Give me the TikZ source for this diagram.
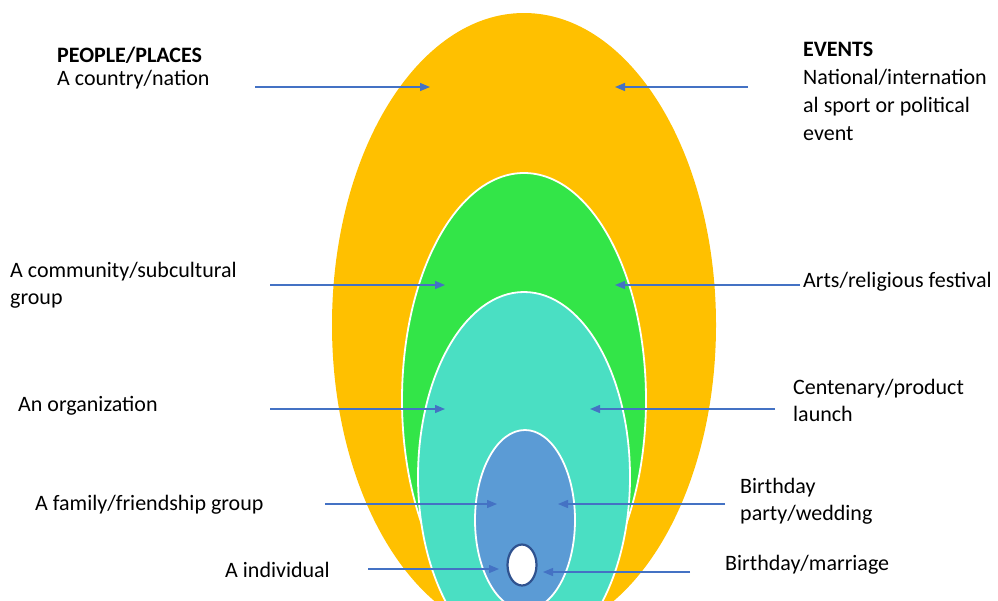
\documentclass[tikz,border=0pt]{standalone}
\usepackage{fontspec}
\setmainfont{Carlito}
\usetikzlibrary{shapes.geometric,arrows.meta}
\definecolor{EggGold}{HTML}{FFC000}
\definecolor{EggGreen}{HTML}{33E548}
\definecolor{EggTeal}{HTML}{4ADFC3}
\definecolor{EggBlue}{HTML}{5B9BD5}
\definecolor{EggRim}{HTML}{2F528F}
\definecolor{EggArrow}{HTML}{4472C4}

\begin{document}
\begin{tikzpicture}[x=1pt,y=-1pt,font=\fontsize{22pt}{27pt}\selectfont,
      egg/.style={ellipse,inner sep=0pt,draw=white,line width=1.8pt},
      lbl/.style={anchor=north west,align=left,inner sep=0pt},
      arr/.style={-{Triangle[length=10pt,width=8pt]},line width=1.3pt,color=EggArrow}]
      \useasboundingbox (0,0) rectangle (998,600);
      \clip (0,0) rectangle (998,600);
      % nested scopes, biggest first
      \node[egg,draw=none,fill=EggGold,minimum width=384pt,minimum height=624pt] (country) at (524,325) {};
      \node[egg,fill=EggGreen,minimum width=244pt,minimum height=454pt] (community) at (524,400) {};
      \node[egg,fill=EggTeal,minimum width=212pt,minimum height=370pt] (organization) at (524,477) {};
      \node[egg,fill=EggBlue,minimum width=100pt,minimum height=180pt] (family) at (525,520) {};
      \node[egg,fill=white,draw=EggRim,line width=2.2pt,minimum width=29pt,minimum height=41pt] (individual) at (522,565) {};
      % labels
      \node[lbl,font=\fontsize{22pt}{23pt}\selectfont] (people) at (57,46.6) {\strut\textbf{PEOPLE/PLACES}\\A country/nation};
      \node[lbl,font=\fontsize{22pt}{28pt}\selectfont] (events) at (803,36.4) {\strut\textbf{EVENTS}\\National/internation\\al sport or political\\event};
      \node[lbl] (lcommunity) at (10,258) {\strut A community/subcultural\\group};
      \node[lbl] (rcommunity) at (803,268) {\strut Arts/religious festival};
      \node[lbl] (lorganization) at (18,392) {\strut An organization};
      \node[lbl] (rorganization) at (793,375) {\strut Centenary/product\\launch};
      \node[lbl] (lfamily) at (35,491) {\strut A family/friendship group};
      \node[lbl] (rfamily) at (740,474) {\strut Birthday\\party/wedding};
      \node[lbl] (lindividual) at (225,558) {\strut A individual};
      \node[lbl] (rindividual) at (725,551) {\strut Birthday/marriage};
      % arrow ends
      \coordinate (a1) at (255,87);  \coordinate (a1t) at (430,87);
      \coordinate (b1) at (748,87);  \coordinate (b1t) at (615,87);
      \coordinate (a2) at (270,285); \coordinate (a2t) at (445,285);
      \coordinate (b2) at (800,285); \coordinate (b2t) at (615,285);
      \coordinate (a3) at (270,409); \coordinate (a3t) at (445,409);
      \coordinate (b3) at (775,409); \coordinate (b3t) at (590,409);
      \coordinate (a4) at (325,504); \coordinate (a4t) at (497,504);
      \coordinate (b4) at (725,504); \coordinate (b4t) at (558,504);
      \coordinate (a5) at (368,569); \coordinate (a5t) at (499,569);
      \coordinate (b5) at (690,572); \coordinate (b5t) at (543,572);
      \draw[arr] (a1) -- (a1t); \draw[arr] (b1) -- (b1t);
      \draw[arr] (a2) -- (a2t); \draw[arr] (b2) -- (b2t);
      \draw[arr] (a3) -- (a3t); \draw[arr] (b3) -- (b3t);
      \draw[arr] (a4) -- (a4t); \draw[arr] (b4) -- (b4t);
      \draw[arr] (a5) -- (a5t); \draw[arr] (b5) -- (b5t);
    \end{tikzpicture}
\end{document}
